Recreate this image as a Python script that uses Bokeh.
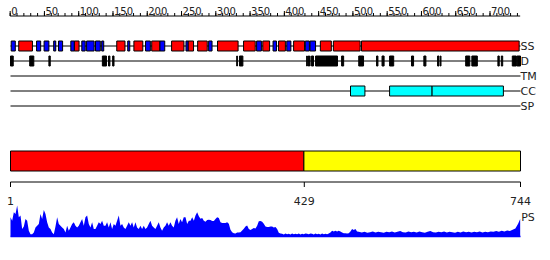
from bokeh.plotting import figure
from bokeh.models import Range1d
from bokeh.core.properties import value
from bokeh.embed import file_html
from bokeh.resources import INLINE

# ---------------- data ----------------
length = 744
ruler_major = [0, 50, 100, 150, 200, 250, 300, 350, 400, 450, 500, 550, 600, 650, 700]
ruler_minor = list(range(0, 741, 10))

ss_helix_start = [13, 94, 156, 181, 207, 236, 260, 274, 303, 341, 369, 392, 414, 453, 472, 513]
ss_helix_end   = [32, 100, 167, 193, 218, 253, 267, 287, 332, 357, 378, 401, 429, 468, 510, 742]
ss_strand_start = [2, 39, 50, 64, 71, 89, 105, 112, 125, 134, 172, 198, 219, 257, 290, 360, 384, 404, 431, 438]
ss_strand_end   = [7, 44, 56, 66, 76, 93, 109, 122, 131, 136, 174, 204, 225, 259, 294, 366, 388, 409, 436, 445]

dis_start = [1, 29, 57, 135, 144, 150, 331, 335, 433, 435, 437, 440, 446, 484, 509, 535, 543, 554,
             586, 604, 624, 628, 665, 674, 712, 717, 733, 740]
dis_end   = [4, 34, 58, 140, 145, 151, 331, 339, 433, 435, 437, 442, 477, 486, 515, 536, 545, 559,
             588, 606, 625, 628, 670, 681, 713, 718, 738, 744]

cc_start = [497, 554, 616]
cc_end   = [517, 615, 719]

track_names = ["SS", "D", "TM", "CC", "SP"]

domain_start = [1, 429]
domain_end = [428, 744]
domain_colors = ["#FF0000", "#FFFF00"]
domain_ticks = [1, 429, 744]

# PS profile, read in three stretches (start residue, sampling step, values)
ps_a_start, ps_a_step = 0.5, 2.43
ps_a = [57, 47, 72, 67, 92, 57, 62, 22, 30, 52, 47, 17, 7, 7, 12, 27, 32, 37, 67, 52,
        79, 67, 42, 27, 22, 12, 7, 30, 57, 37, 32, 27, 22, 12, 32, 17, 27, 37, 42, 32,
        27, 32, 42, 52, 32, 57, 62, 37, 27, 42, 22, 22, 32, 42, 37, 47, 32, 32, 42, 27,
        42, 22, 37, 32, 47, 62, 32, 37, 27, 22, 32, 42, 32, 42, 27, 42, 27, 22, 32, 22,
        32, 22, 27, 37, 47, 32, 27, 22, 32, 42, 27, 17, 27, 32, 42, 32, 42, 32, 27, 47,
        57, 37, 52, 42, 57]
ps_b_start, ps_b_step = 255.8, 2.43
ps_b = [57, 37, 47, 47, 57, 47, 62, 72, 60, 53, 55, 47, 44, 49, 50, 49, 46, 46, 52, 57,
        55, 42, 40, 40, 40, 42, 38, 20, 13, 10, 9, 12, 12, 13, 18, 23, 30, 33, 22, 19,
        22, 25, 24, 32, 45, 46, 44, 38, 30, 28, 28, 30, 30, 27, 28, 22, 11, 9,
        8, 6, 9, 7, 8, 6, 9, 7, 8, 7, 9, 6, 8, 7, 9, 8, 7, 9, 8, 6, 9, 7, 8, 6, 9, 7,
        8, 7, 9, 12, 17, 15, 17, 15, 17, 15, 12, 10, 10, 9, 10, 15, 22, 19, 22, 15, 14]
ps_c_start, ps_c_step = 513, 4
ps_c = [12, 14, 11, 13, 15, 12, 14, 13, 11, 14,
        13, 15, 12, 14, 16, 13, 12, 15, 13, 14,
        12, 15, 13, 11, 14, 16, 13, 12, 14, 13,
        15, 12, 14, 13, 11, 14, 12, 15, 13, 14,
        12, 14, 13, 15, 12, 14, 13, 15, 14, 16,
        14, 17, 15, 18, 16, 20, 24, 38]
ps_last_res, ps_last_val = 744, 52

ps_res = ([ps_a_start + ps_a_step * i for i in range(len(ps_a))]
          + [ps_b_start + ps_b_step * i for i in range(len(ps_b))]
          + [ps_c_start + ps_c_step * i for i in range(len(ps_c))]
          + [ps_last_res])
ps_vals = ps_a + ps_b + ps_c + [ps_last_val]

# ---------------- figure ----------------
W, H = 550, 260
x0px, scale = 9.66, 0.6855
p = figure(width=W, height=H,
           x_range=Range1d(-x0px / scale, (W - x0px) / scale),
           y_range=Range1d(H, 0),
           output_backend="svg", toolbar_location=None, min_border=0)
p.axis.visible = False
p.grid.visible = False
p.outline_line_color = None
p.background_fill_color = "white"
p.border_fill_color = "white"
p.extra_y_ranges = {"ps": Range1d(-71.2, 700.4)}

font = value("DejaVu Sans")
lab_color = "#222222"

# top ruler
p.segment(x0=[0], x1=[length], y0=[15.5], y1=[15.5], line_color="black", line_width=1)
p.segment(x0=ruler_minor, x1=ruler_minor, y0=[15.5] * len(ruler_minor), y1=[12.5] * len(ruler_minor),
          line_color="black", line_width=1)
p.segment(x0=ruler_major, x1=ruler_major, y0=[15.5] * len(ruler_major), y1=[10.5] * len(ruler_major),
          line_color="black", line_width=1)
p.text(x=ruler_major, y=[10.5] * len(ruler_major), text=[str(v) for v in ruler_major],
       text_font=font, text_font_size="10px", text_align="left", text_baseline="alphabetic",
       text_color=lab_color, x_offset=1)

# track lines
track_y = [45.5, 60.5, 75.5, 90.5, 105.5]
p.segment(x0=[0.5] * 5, x1=[length + 0.5] * 5, y0=track_y, y1=track_y, line_color="black", line_width=1)

def boxes(starts, ends, yc, color, half=5):
    p.quad(left=[s - 0.5 for s in starts], right=[e + 0.5 for e in ends],
           top=[yc - half] * len(starts), bottom=[yc + half] * len(starts),
           fill_color=color, line_color="black", line_width=1)

boxes(ss_helix_start, ss_helix_end, 45.5, "#FF0000")
boxes(ss_strand_start, ss_strand_end, 45.5, "#0000FF")
p.quad(left=[s - 0.5 for s in dis_start], right=[e + 0.5 for e in dis_end],
       top=[55.5] * len(dis_start), bottom=[65.5] * len(dis_start),
       fill_color="black", line_color="black", line_width=1)
boxes(cc_start, cc_end, 90.5, "#00FFFF")

p.text(x=[length + 0.5] * 5, y=track_y, text=track_names, text_font=font, text_font_size="11px",
       text_align="left", text_baseline="middle", text_color=lab_color, x_offset=0)

# domain bar
p.quad(left=[s - 0.5 for s in domain_start], right=[e + 0.5 for e in domain_end],
       top=[150.5, 150.5], bottom=[170.5, 170.5], fill_color=domain_colors,
       line_color="black", line_width=1)

# bottom ruler
tick_x = [0.5 + (v - 1) * length / (length - 1) for v in domain_ticks]
p.segment(x0=[tick_x[0]], x1=[tick_x[-1]], y0=[181.5], y1=[181.5], line_color="black", line_width=1)
p.segment(x0=tick_x, x1=tick_x, y0=[181.5] * 3, y1=[186.5] * 3, line_color="black", line_width=1)
p.text(x=tick_x, y=[200] * 3, text=[str(v) for v in domain_ticks], text_font=font,
       text_font_size="11px", text_align="center", text_baseline="alphabetic", text_color=lab_color)

# PS profile
p.varea(x=ps_res, y1=[0] * len(ps_res), y2=ps_vals, fill_color="#0000FF", y_range_name="ps")
p.segment(x0=[0.5], x1=[length + 0.5], y0=[0], y1=[0], line_color="#0000FF", line_width=1.5,
          y_range_name="ps")
p.text(x=[length + 1.5], y=[217], text=["PS"], text_font=font, text_font_size="11px",
       text_align="left", text_baseline="alphabetic", text_color=lab_color)

open("out.html", "w").write(file_html(p, INLINE))
